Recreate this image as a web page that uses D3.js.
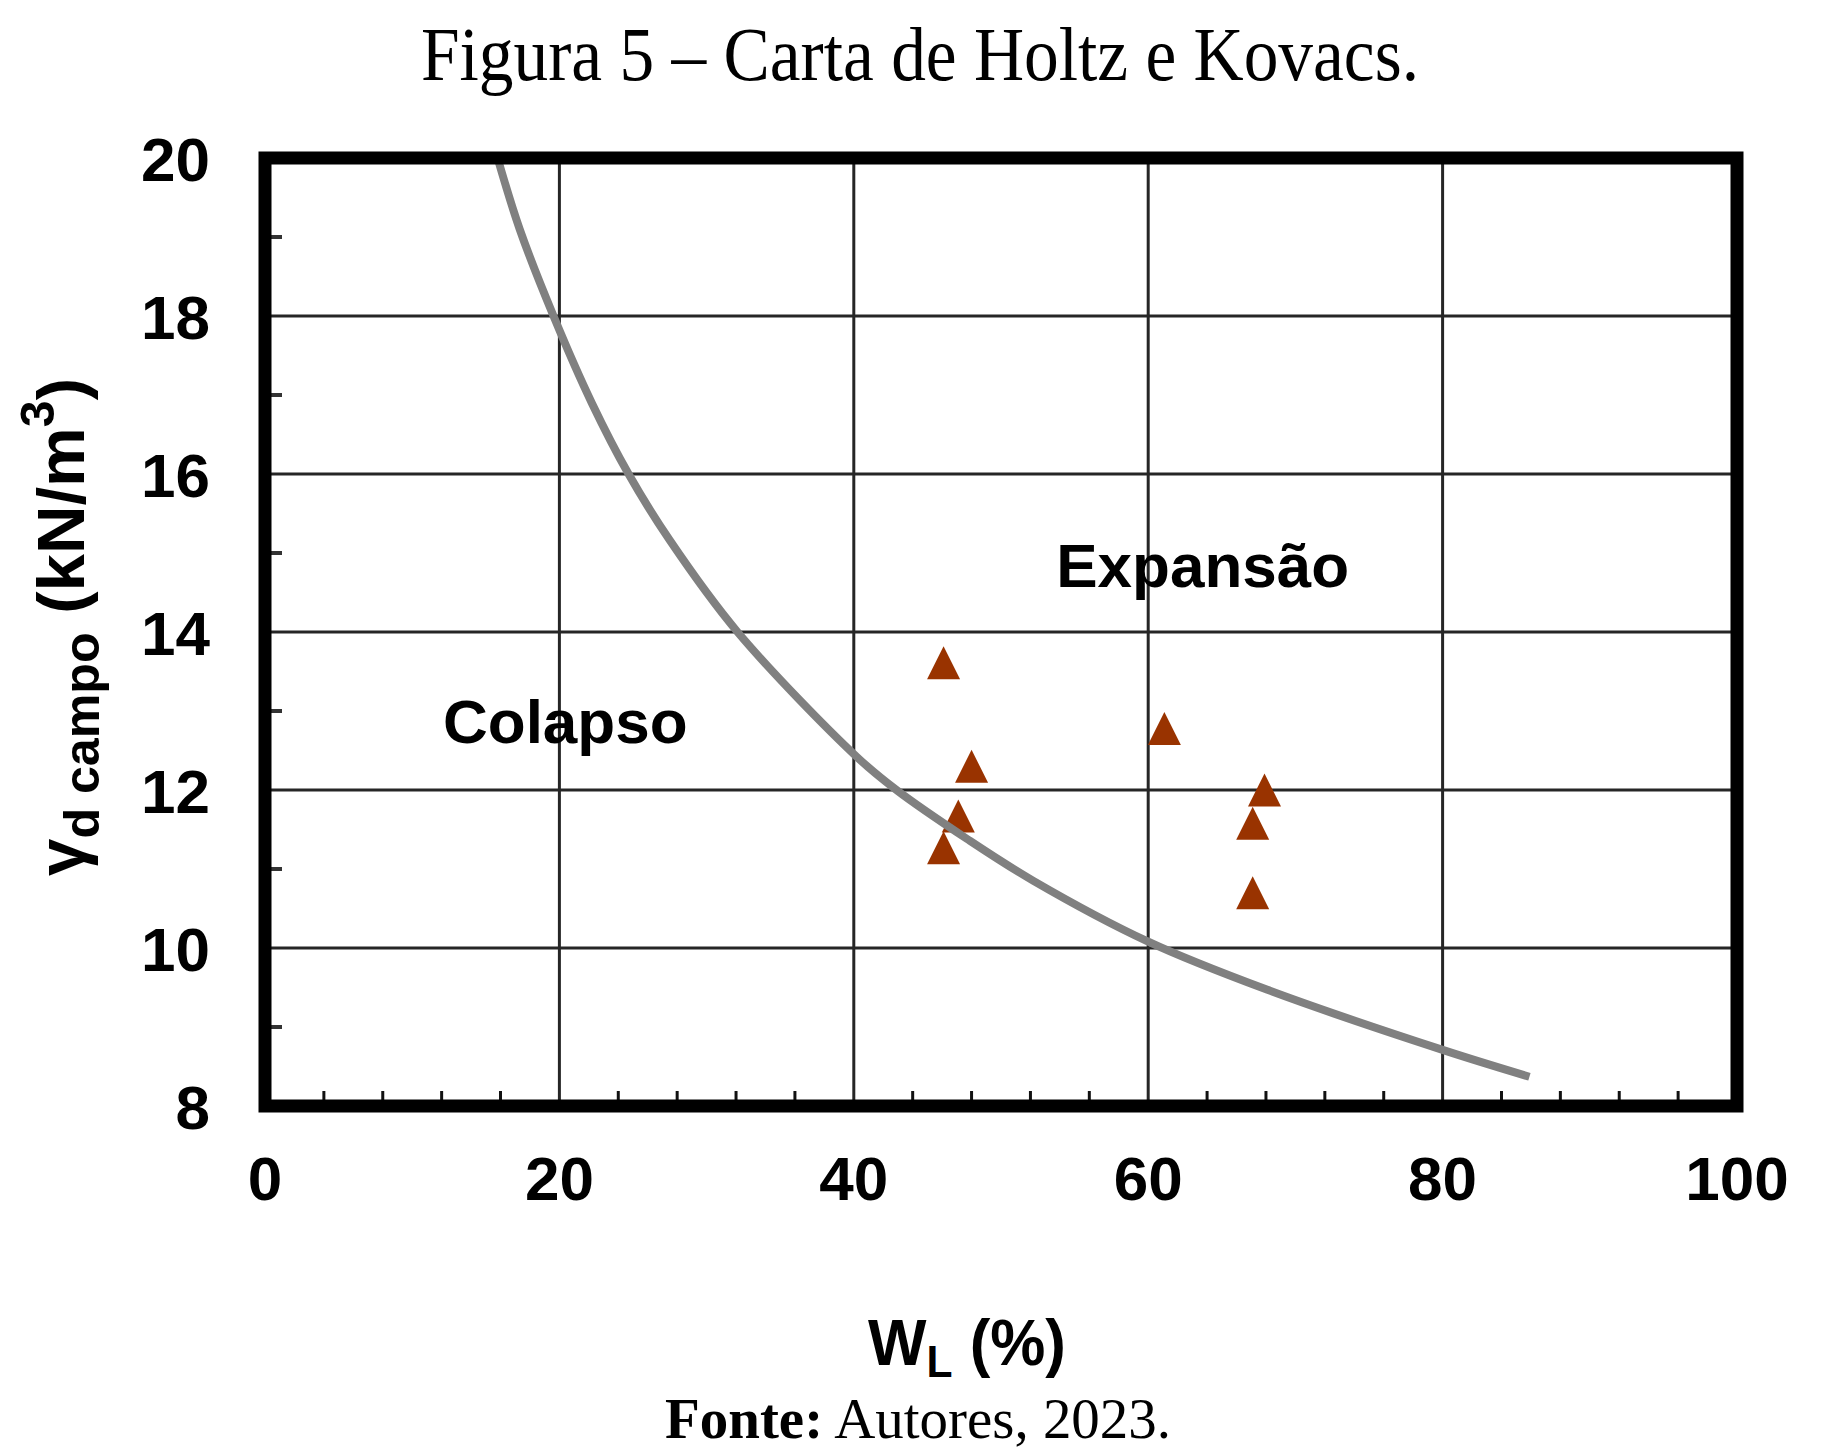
<!DOCTYPE html>
<html>
<head>
<meta charset="utf-8">
<script src="https://cdn.jsdelivr.net/npm/d3@7"></script>
<style>
  body { margin: 0; background: #fff; }
  svg { display: block; }
</style>
</head>
<body>
<div id="chart"></div>
<script>
// data
var wlTicks = [0, 20, 40, 60, 80, 100];
var gdTicks = [8, 10, 12, 14, 16, 18, 20];
var curveWL = [15.8, 17.3, 19.6, 22.2, 24.7, 27.5, 32.1, 40.2, 42.9, 47.7, 52.2, 60.0, 68.1, 80.0, 85.9];
var curveGd = [20.0, 19.1, 18.0, 16.9, 16.0, 15.16, 14.0, 12.42, 12.0, 11.38, 10.85, 10.08, 9.47, 8.71, 8.37];
var sampleWL = [46.1, 48.0, 47.1, 46.1, 61.1, 67.9, 67.1, 67.1];
var sampleGd = [13.61, 12.30, 11.67, 11.27, 12.78, 12.00, 11.58, 10.70];
var regionNames = ["Colapso", "Expansão"];
var regionWL = [20.4, 63.7];
var regionGd = [12.6, 14.57];

var width = 1836, height = 1452;
var plotLeft = 265, plotRight = 1737, plotTop = 158, plotBottom = 1106;

var svg = d3.select("#chart").append("svg").attr("width", width).attr("height", height);
svg.append("rect").attr("width", width).attr("height", height).attr("fill", "#fff");

var x = d3.scaleLinear().domain([0, 100]).range([plotLeft, plotRight]);
var y = d3.scaleLinear().domain([8, 20]).range([plotBottom, plotTop]);

var sans = "'Liberation Sans', Arial, sans-serif";
var serif = "'Liberation Serif', 'Times New Roman', serif";

// grid
var grid = svg.append("g");
grid.selectAll(".gx").data(wlTicks.slice(1, -1)).enter().append("line")
  .attr("x1", function(d){ return x(d); }).attr("x2", function(d){ return x(d); })
  .attr("y1", plotTop).attr("y2", plotBottom)
  .attr("stroke", "#262626").attr("stroke-width", 3);
grid.selectAll(".gy").data(gdTicks.slice(1, -1)).enter().append("line")
  .attr("y1", function(d){ return y(d); }).attr("y2", function(d){ return y(d); })
  .attr("x1", plotLeft).attr("x2", plotRight)
  .attr("stroke", "#262626").attr("stroke-width", 3);

// minor ticks
var xMinor = d3.range(4, 100, 4).filter(function(d){ return d % 20 != 0; });
grid.selectAll(".mx").data(xMinor).enter().append("line")
  .attr("x1", function(d){ return x(d); }).attr("x2", function(d){ return x(d); })
  .attr("y1", plotBottom).attr("y2", plotBottom - 15)
  .attr("stroke", "#111").attr("stroke-width", 3);
var yMinor = d3.range(9, 20, 2);
grid.selectAll(".my").data(yMinor).enter().append("line")
  .attr("y1", function(d){ return y(d); }).attr("y2", function(d){ return y(d); })
  .attr("x1", plotLeft).attr("x2", plotLeft + 17)
  .attr("stroke", "#333").attr("stroke-width", 4);

// samples
var tri = "M0,-16.5L16.5,16.5L-16.5,16.5Z";
svg.append("g").selectAll("path").data(sampleWL).enter().append("path")
  .attr("d", tri)
  .attr("transform", function(d, i){ return "translate(" + x(d) + "," + y(sampleGd[i]) + ")"; })
  .attr("fill", "#993300");

// Holtz & Kovacs boundary
var line = d3.line()
  .x(function(d){ return x(d); })
  .y(function(d, i){ return y(curveGd[i]); })
  .curve(d3.curveCatmullRom);
svg.append("path").attr("d", line(curveWL))
  .attr("fill", "none").attr("stroke", "#808080").attr("stroke-width", 8);

// frame
svg.append("rect").attr("x", plotLeft).attr("y", plotTop)
  .attr("width", plotRight - plotLeft).attr("height", plotBottom - plotTop)
  .attr("fill", "none").attr("stroke", "#000").attr("stroke-width", 13);

// region labels
svg.append("g").selectAll("text").data(regionNames).enter().append("text")
  .attr("x", function(d, i){ return x(regionWL[i]); })
  .attr("y", function(d, i){ return y(regionGd[i]); })
  .attr("text-anchor", "middle")
  .attr("font-family", sans).attr("font-weight", "bold").attr("font-size", 62)
  .text(function(d){ return d; });

// tick labels
svg.append("g").selectAll("text").data(gdTicks).enter().append("text")
  .attr("x", 210).attr("y", function(d){ return y(d) + 23; })
  .attr("text-anchor", "end")
  .attr("font-family", sans).attr("font-weight", "bold").attr("font-size", 62)
  .text(function(d){ return d; });
svg.append("g").selectAll("text").data(wlTicks).enter().append("text")
  .attr("x", function(d){ return x(d); }).attr("y", 1200)
  .attr("text-anchor", "middle")
  .attr("font-family", sans).attr("font-weight", "bold").attr("font-size", 62)
  .text(function(d){ return d; });

// axis titles
var xt = svg.append("text").attr("x", 967).attr("y", 1365)
  .attr("text-anchor", "middle").attr("textLength", 198).attr("lengthAdjust", "spacingAndGlyphs")
  .attr("font-family", sans).attr("font-weight", "bold").attr("font-size", 64);
xt.append("tspan").text("W");
xt.append("tspan").attr("font-size", 44).attr("dy", 12).text("L");
xt.append("tspan").attr("dy", -12).text(" (%)");

var yt = svg.append("text").attr("transform", "translate(84,627) rotate(-90)")
  .attr("text-anchor", "middle").attr("textLength", 498).attr("lengthAdjust", "spacingAndGlyphs")
  .attr("font-family", sans).attr("font-weight", "bold").attr("font-size", 67);
yt.append("tspan").text("γ");
yt.append("tspan").attr("font-size", 50).attr("dy", 15).text("d campo");
yt.append("tspan").attr("dy", -15).text(" (kN/m");
yt.append("tspan").attr("font-size", 48).attr("dy", -30).text("3");
yt.append("tspan").attr("dy", 30).text(")");

// caption
svg.append("text").attr("x", 920).attr("y", 80)
  .attr("text-anchor", "middle").attr("textLength", 998).attr("lengthAdjust", "spacingAndGlyphs")
  .attr("font-family", serif).attr("font-size", 76)
  .text("Figura 5 – Carta de Holtz e Kovacs.");
var src = svg.append("text").attr("x", 918).attr("y", 1438)
  .attr("text-anchor", "middle").attr("textLength", 506).attr("lengthAdjust", "spacingAndGlyphs")
  .attr("font-family", serif).attr("font-size", 58);
src.append("tspan").attr("font-weight", "bold").text("Fonte:");
src.append("tspan").text(" Autores, 2023.");
</script>
</body>
</html>
